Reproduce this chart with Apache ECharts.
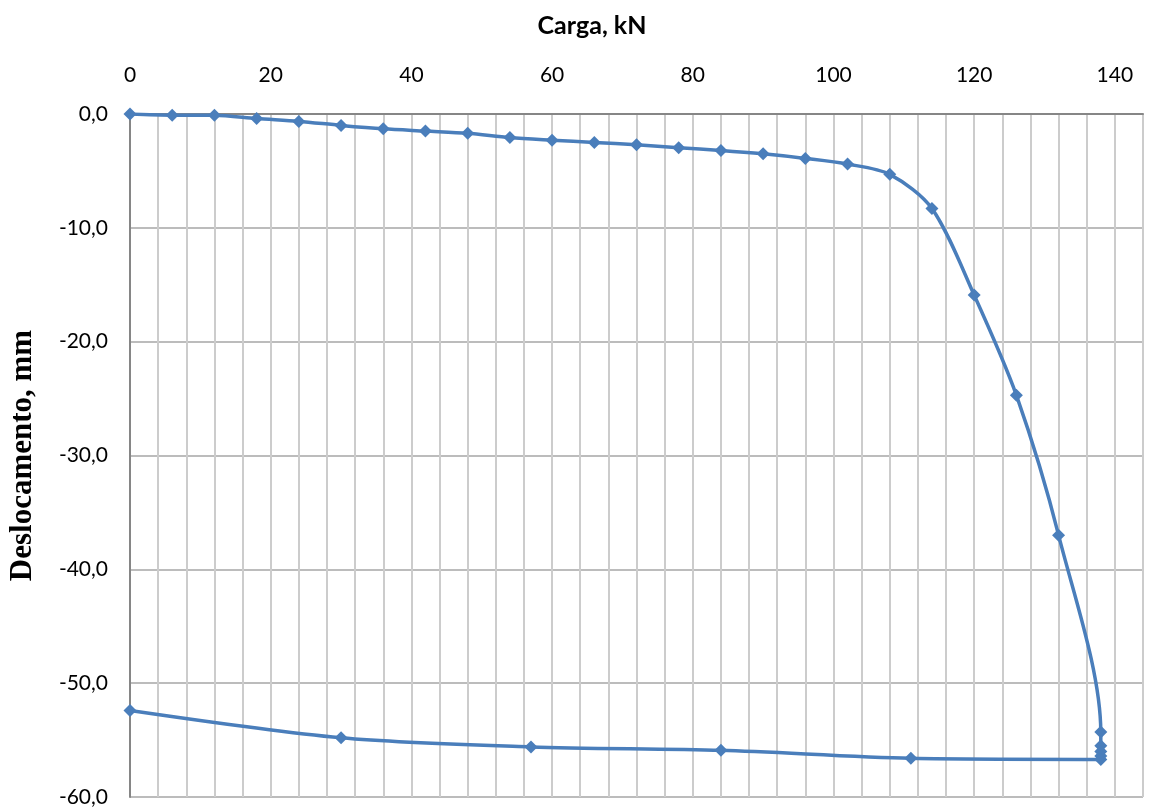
<!DOCTYPE html>
<html>
<head>
<meta charset="utf-8">
<script src="https://cdn.jsdelivr.net/npm/echarts@6/dist/echarts.min.js"></script>
<style>
  html, body { margin: 0; padding: 0; background: #fff; }
  #chart { width: 1150px; height: 811px; }
</style>
</head>
<body>
<div id="chart"></div>
<script>
// carga (kN) e deslocamento (mm), na ordem do ensaio
const carga = [0, 6, 12, 18, 24, 30, 36, 42, 48, 54, 60, 66, 72, 78, 84, 90, 96, 102, 108, 114, 120, 126, 132, 138,
  138, 138, 138, 138, 111, 84, 57, 30, 0]
const deslocamento = [0, -0.1, -0.1, -0.4, -0.65, -1.0, -1.3, -1.5, -1.7, -2.07, -2.3, -2.5, -2.7, -2.97, -3.2, -3.5, -3.9, -4.4, -5.3, -8.3, -15.9, -24.7, -37.0, -54.3,
  -55.5, -56.0, -56.4, -56.7, -56.6, -55.9, -55.6, -54.8, -52.4]
const xLabels = [0, 20, 40, 60, 80, 100, 120, 140]
const yTicks = [0, -10, -20, -30, -40, -50, -60]

const chart = echarts.init(document.getElementById('chart'))

const pontos = carga.map((c, i) => [c, deslocamento[i]])

chart.setOption({
  animation: false,
  title: {
    text: 'Carga, kN',
    left: 587,
    top: 8,
    textAlign: 'center',
    textStyle: { fontFamily: 'Lato', fontWeight: 'bold', fontSize: 25, color: '#000' }
  },
  grid: { left: 130, top: 114, right: 7, bottom: 14, containLabel: false, outerBoundsMode: 'none' },
  xAxis: {
    type: 'value',
    position: 'top',
    min: 0,
    max: 144,
    interval: 4,
    axisLine: { lineStyle: { color: '#868686', width: 2 } },
    axisTick: { show: false },
    axisLabel: {
      margin: 28,
      fontFamily: 'Lato',
      fontSize: 21,
      color: '#000',
      formatter: v => xLabels.indexOf(v) >= 0 ? String(v) : ''
    },
    splitLine: { lineStyle: { color: '#cccccc', width: 2 } }
  },
  yAxis: {
    type: 'value',
    min: yTicks[yTicks.length - 1],
    max: yTicks[0],
    interval: 10,
    name: 'Deslocamento, mm',
    nameLocation: 'middle',
    nameRotate: 90,
    nameGap: 92,
    nameTextStyle: { fontFamily: 'Liberation Serif', fontWeight: 'bold', fontSize: 31, color: '#000' },
    axisLine: { show: true, lineStyle: { color: '#868686', width: 2 } },
    axisTick: { show: false },
    axisLabel: {
      margin: 22,
      fontFamily: 'Lato',
      fontSize: 21,
      color: '#000',
      formatter: v => v.toFixed(1).replace('.', ',')
    },
    splitLine: { lineStyle: { color: '#a6a6a6', width: 1.5 } }
  },
  series: [{
    type: 'line',
    data: pontos,
    smooth: 0.3,
    symbol: 'diamond',
    symbolSize: 13,
    lineStyle: { color: '#4a7ebb', width: 3.5 },
    itemStyle: { color: '#4a7ebb' }
  }]
})
</script>
</body>
</html>
